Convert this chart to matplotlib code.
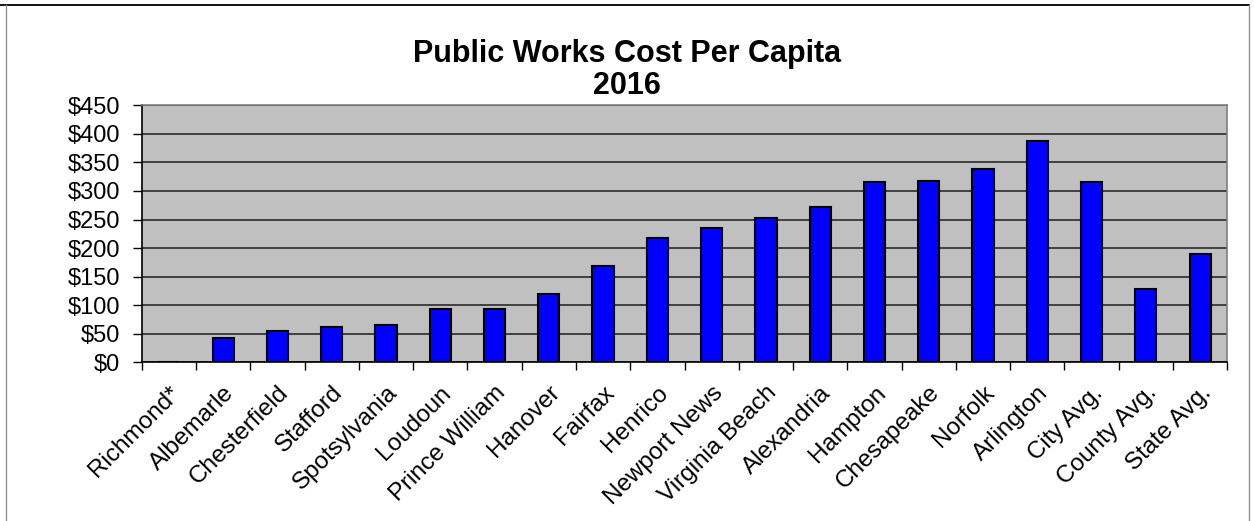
"""Public Works Cost Per Capita 2016 - bar chart."""

import matplotlib

matplotlib.use("Agg", force=True)

import matplotlib.pyplot as plt
from matplotlib.lines import Line2D
from matplotlib.ticker import FuncFormatter, MultipleLocator
import numpy as np

plt.rcParams["font.family"] = ["Liberation Sans", "DejaVu Sans"]

localities = [
    "Richmond*", "Albemarle", "Chesterfield", "Stafford", "Spotsylvania",
    "Loudoun", "Prince William", "Hanover", "Fairfax", "Henrico",
    "Newport News", "Virginia Beach", "Alexandria", "Hampton", "Chesapeake",
    "Norfolk", "Arlington", "City Avg.", "County Avg.", "State Avg.",
]
cost_per_capita = [
    0, 43, 55, 62, 66,
    93, 93, 119, 169, 218,
    235, 253, 272, 315, 318,
    338, 388, 315, 128, 189,
]

W, H = 1254, 521
fig = plt.figure(figsize=(W / 100, H / 100), dpi=100, facecolor="white")
ax = fig.add_axes([141.7 / W, 1 - 362.3 / H, (1227.3 - 141.7) / W, (362.3 - 105.3) / H])

x = np.arange(len(localities))
ax.bar(x, cost_per_capita, width=0.39, color="#0000FF", edgecolor="black",
       linewidth=1.5, zorder=3)

ax.set_facecolor("#C0C0C0")
ax.set_xlim(-0.5, len(localities) - 0.5)
ax.set_ylim(0, 450)
ax.yaxis.set_major_locator(MultipleLocator(50))
ax.yaxis.set_major_formatter(FuncFormatter(lambda v, _: f"${v:.0f}"))
ax.grid(axis="y", color="#2a2a2a", linewidth=1.2, zorder=1)

# category boundary ticks on x, labels at the category centres
ax.set_xticks(np.arange(-0.5, len(localities)), minor=False)
ax.set_xticklabels([])
ax.set_xticks(x, minor=True)
ax.set_xticklabels(localities, minor=True, rotation=45, ha="right", va="top",
                   rotation_mode="anchor", fontsize=17.5)
ax.tick_params(axis="x", which="major", direction="out", length=6, width=1, color="black")
ax.tick_params(axis="x", which="minor", length=0, pad=14)
ax.tick_params(axis="y", direction="out", length=6.2, width=1, labelsize=17, pad=9.4)

for side in ("top", "right"):
    ax.spines[side].set_color("#808080")
    ax.spines[side].set_linewidth(1.2)
for side in ("left", "bottom"):
    ax.spines[side].set_color("black")
    ax.spines[side].set_linewidth(1.2)

fig.text(0.5, 1 - 61.7 / H, "Public Works Cost Per Capita", ha="center", va="baseline",
         fontsize=22, fontweight="bold")
fig.text(0.5, 1 - 94 / H, "2016", ha="center", va="baseline",
         fontsize=22, fontweight="bold")

# outer frame of the chart object
fig.add_artist(Line2D([0, 1249 / W], [1 - 4.5 / H, 1 - 4.5 / H],
                      color="black", linewidth=1.3, transform=fig.transFigure))
fig.add_artist(Line2D([6 / W, 6 / W], [0, 1 - 4.5 / H],
                      color="#909090", linewidth=1.0, transform=fig.transFigure))
fig.add_artist(Line2D([1249 / W, 1249 / W], [0, 1 - 4.5 / H],
                      color="#909090", linewidth=1.0, transform=fig.transFigure))

fig.savefig("out.png", dpi=100, facecolor="white")
